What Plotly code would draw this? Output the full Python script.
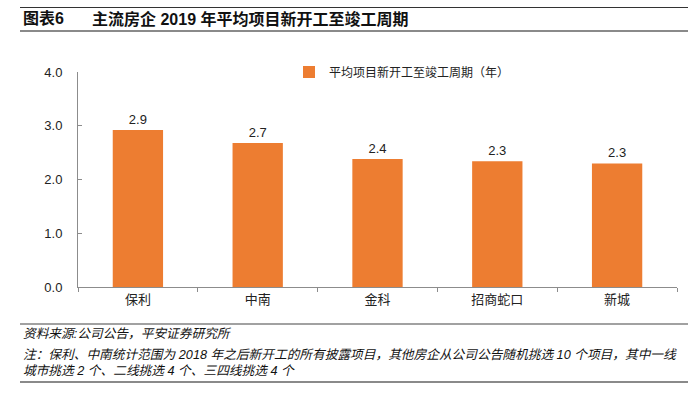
import plotly.graph_objects as go

categories = ["保利", "中南", "金科", "招商蛇口", "新城"]
values = [2.92, 2.68, 2.38, 2.34, 2.30]
series_name = "平均项目新开工至竣工周期（年）"
y_ticks = [0, 1, 2, 3, 4]

W, H = 698, 398
L, R, T, B = 78, 21, 72, 111
PW, PH = W - L - R, H - T - B

def px_x(p):
    return (p - L) / PW

def px_y(p):
    return (H - B - p) / PH

CJK = "Noto Sans CJK SC"
LAT = "Liberation Sans, Noto Sans CJK SC"
AX = "#8c8c8c"

fig = go.Figure()
fig.add_trace(go.Bar(
    x=categories, y=values, name=series_name,
    marker=dict(color="#ED7D31", line=dict(width=0)),
    text=values, texttemplate="%{y:.1f}", textposition="outside",
    textfont=dict(family=LAT, size=13, color="#222222"),
    cliponaxis=False, showlegend=True,
))

fig.update_layout(
    width=W, height=H,
    margin=dict(l=L, r=R, t=T, b=B),
    paper_bgcolor="white", plot_bgcolor="white",
    bargap=0.58,
    font=dict(family=LAT, size=13, color="#222222"),
    showlegend=True,
    legend=dict(
        x=px_x(289), y=px_y(72), xanchor="left", yanchor="middle",
        orientation="h", bgcolor="rgba(0,0,0,0)",
        font=dict(family=CJK, size=12, color="#222222"),
    ),
    xaxis=dict(
        showline=True, linecolor=AX, linewidth=1,
        ticks="outside", tickson="boundaries", ticklen=4, tickcolor=AX,
        showgrid=False, zeroline=False,
        tickfont=dict(family=CJK, size=13, color="#222222"),
    ),
    yaxis=dict(
        range=[0, 4], tickvals=y_ticks, tickformat=".1f",
        showline=True, linecolor=AX, linewidth=1,
        ticks="inside", ticklen=4, tickcolor=AX,
        showgrid=False, zeroline=False,
        ticklabelstandoff=12,
        tickfont=dict(family=LAT, size=13, color="#222222"),
    ),
)

# decorative rules
rules = [(7.5, 1.2, "#333333"), (31, 2, "#8a8a8a"), (324, 1.2, "#444444"), (382, 2, "#8a8a8a")]
for py, w, c in rules:
    fig.add_shape(type="line", xref="paper", yref="paper", layer="above",
                  x0=px_x(20), x1=px_x(688), y0=px_y(py), y1=px_y(py),
                  line=dict(color=c, width=w))
# top rule also as a 1px filled annotation box
fig.add_annotation(text=" ", xref="paper", yref="paper", x=px_x(20), y=px_y(7.5),
                   xanchor="left", yanchor="middle", showarrow=False,
                   width=668, height=1, borderpad=0, borderwidth=0,
                   bgcolor="#333333", font=dict(size=1))

def note(text, x, y, size, bold=False, italic=False):
    t = text
    if bold:
        t = "<b>" + t + "</b>"
    if italic:
        t = "<i>" + t + "</i>"
    fig.add_annotation(text=t, xref="paper", yref="paper", x=px_x(x), y=px_y(y),
                       xanchor="left", yanchor="middle", showarrow=False,
                       font=dict(family=LAT, size=size, color="#111111"))

note("图表6", 21, 19, 16, bold=True)
note("主流房企 2019 年平均项目新开工至竣工周期", 90, 19, 16, bold=True)
note("资料来源:公司公告，平安证券研究所", 21, 334, 12.7, italic=True)
note("注：保利、中南统计范围为 2018 年之后新开工的所有披露项目，其他房企从公司公告随机挑选 10 个项目，其中一线", 21, 355, 12.7, italic=True)
note("城市挑选 2 个、二线挑选 4 个、三四线挑选 4 个", 21, 371, 12.7, italic=True)

fig.write_html("out.html", config={"displayModeBar": False},
               post_script="document.body.style.margin='0';document.body.style.padding='0';")
